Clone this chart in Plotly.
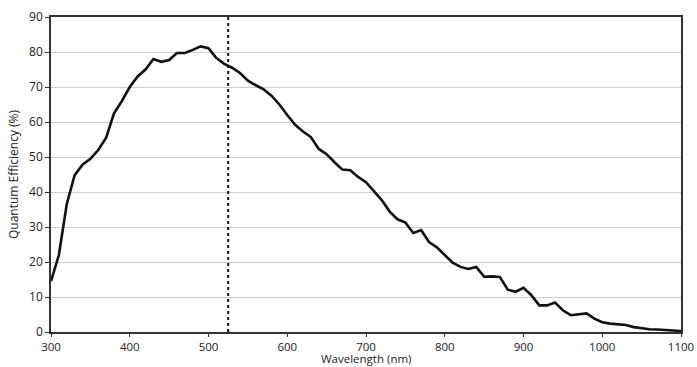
import plotly.graph_objects as go

wavelength = list(range(300, 1101, 10))
qe = [14.5, 22, 36.5, 44.8, 47.8, 49.5, 52, 55.5, 62.5, 66,
      70, 73, 75, 78, 77.2, 77.7, 79.7, 79.7, 80.6, 81.6,
      81.1, 78.3, 76.6, 75.5, 74, 71.8, 70.5, 69.3, 67.5, 65,
      62, 59.2, 57.3, 55.7, 52.3, 50.8, 48.5, 46.4, 46.2, 44.3,
      42.8, 40.3, 37.7, 34.4, 32.2, 31.3, 28.3, 29.1, 25.7, 24.2,
      22, 19.8, 18.6, 18, 18.6, 15.8, 15.9, 15.7, 12.1, 11.5,
      12.6, 10.5, 7.6, 7.6, 8.4, 6.2, 4.8, 5, 5.3, 3.8,
      2.8, 2.4, 2.3, 2.0, 1.4, 1.0, 0.8, 0.7, 0.5, 0.4, 0.3]
marker_wavelength = 525
x_ticks = [300, 400, 500, 600, 700, 800, 900, 1000, 1100]
y_ticks = [0, 10, 20, 30, 40, 50, 60, 70, 80, 90]

fig = go.Figure()
fig.add_trace(go.Scatter(x=wavelength, y=qe, mode="lines",
                         line=dict(color="#111111", width=2.6), showlegend=False))
fig.add_trace(go.Scatter(x=[marker_wavelength, marker_wavelength], y=[0, 90], mode="lines",
                         line=dict(color="#111111", width=2, dash="dot"), showlegend=False))

font = dict(family="Open Sans", size=12, color="#222222")
small = dict(family="Open Sans", size=11.5, color="#222222")
fig.update_layout(
    width=697, height=367,
    margin=dict(l=51, r=16, t=17, b=35),
    paper_bgcolor="white", plot_bgcolor="white",
    font=font,
    xaxis=dict(range=[300, 1100], tickvals=x_ticks, showgrid=False, automargin=False,
               showline=True, linecolor="#333333", linewidth=1.5, mirror=True, tickfont=small,
               ticks="outside", ticklen=3, tickcolor="#333333", zeroline=False),
    yaxis=dict(range=[0, 90], tickvals=y_ticks, showgrid=True, gridcolor="#cccccc", gridwidth=1.2,
               showline=True, linecolor="#333333", linewidth=1.5, mirror=True, automargin=False,
               ticks="outside", ticklen=4, tickcolor="#333333",
               title=dict(text="Quantum Efficiency (%)", standoff=8, font=font), zeroline=False),
    annotations=[dict(text="Wavelength (nm)", xref="paper", yref="paper", x=0.5, y=0,
                      xanchor="center", yanchor="middle", yshift=-26, showarrow=False,
                      borderpad=0, font=small)],
)
fig.write_html("out.html", config={"displayModeBar": False},
               post_script="document.body.style.margin='0';")
